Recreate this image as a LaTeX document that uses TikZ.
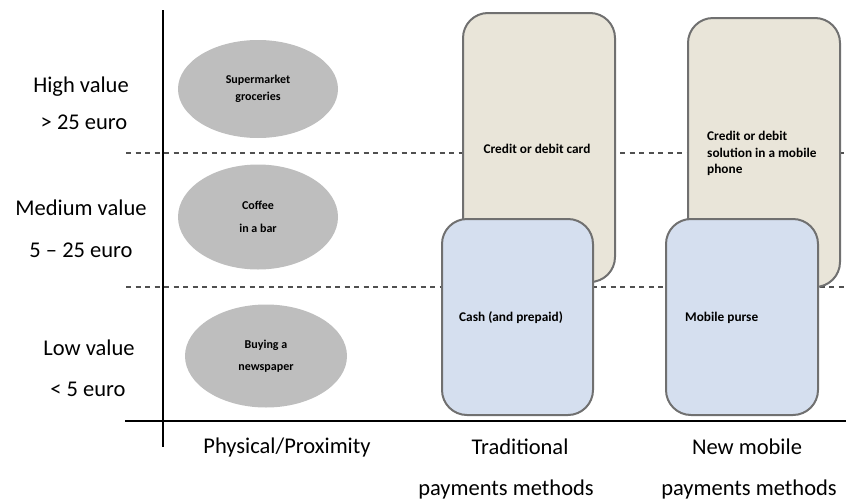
\documentclass[tikz,border=0pt]{standalone}
\usepackage{fontspec}
\setmainfont{Carlito}
\usetikzlibrary{shapes.geometric}
\definecolor{beigefill}{RGB}{233,229,217}
\definecolor{bluefill}{RGB}{213,223,239}
\definecolor{boxborder}{RGB}{112,112,112}
\definecolor{ellfill}{RGB}{190,190,190}
\definecolor{dashcol}{RGB}{80,80,80}
\begin{document}
\begin{tikzpicture}[x=1pt,y=-1pt,
  axisline/.style={line width=2.6pt,black},
  dashline/.style={line width=1.1pt,dashcol,dash pattern=on 5pt off 4.5pt},
  beigebox/.style={draw=boxborder,line width=2pt,fill=beigefill,rounded corners=25pt,inner sep=0pt},
  bluebox/.style={draw=boxborder,line width=2pt,fill=bluefill,rounded corners=25pt,inner sep=0pt},
  ell/.style={ellipse,fill=ellfill,inner sep=0pt,align=center,font=\fontsize{12}{17}\selectfont\bfseries},
  boxtext/.style={inner sep=0pt,align=left,font=\fontsize{13.3}{16.7}\selectfont\bfseries},
  biglabel/.style={inner sep=0pt,align=center,font=\fontsize{22.5}{27}\selectfont}]
\useasboundingbox (0,0) rectangle (846,501);
% dashed separators
\coordinate (d1a) at (126,153); \coordinate (d1b) at (846,153);
\coordinate (d2a) at (126,287); \coordinate (d2b) at (846,287);
\draw[dashline] (d1a) -- (d1b);
\draw[dashline] (d2a) -- (d2b);
% axes
\coordinate (vtop) at (163,10); \coordinate (vbot) at (163,447);
\coordinate (hl) at (125,421); \coordinate (hr) at (846,421);
\draw[axisline] (vtop) -- (vbot);
\draw[axisline] (hl) -- (hr);
% ellipses
\node[ell,minimum width=160pt,minimum height=98pt] (super) at (258,89) {Supermarket\\groceries};
\node[ell,minimum width=160pt,minimum height=105pt] (coffee) at (258,217) {Coffee\\[6pt]in a bar};
\node[ell,minimum width=162pt,minimum height=103pt] (news) at (266,356) {Buying a\\[5pt]newspaper};
% boxes
\node[beigebox,minimum width=152pt,minimum height=269pt] (card) at (539,147.5) {};
\node[beigebox,minimum width=152pt,minimum height=269pt] (mobcard) at (764,152.5) {};
\node[bluebox,minimum width=151pt,minimum height=196pt] (cash) at (517.5,317) {};
\node[bluebox,minimum width=152pt,minimum height=196pt] (purse) at (742,317) {};
% box texts
\node[boxtext] (cardtxt) at (537,149) {Credit or debit card};
\node[boxtext,anchor=west] (mobtxt) at (707,153.5) {Credit or debit\\solution in a mobile\\phone};
\node[boxtext,anchor=west] (cashtxt) at (459,318) {Cash (and prepaid)};
\node[boxtext,anchor=west] (pursetxt) at (685,318) {Mobile purse};
% left labels
\node[biglabel] (high) at (81,87) {High value};
\node[biglabel] (high2) at (84,122) {> 25 euro};
\node[biglabel] (med) at (81,208) {Medium value};
\node[biglabel] (med2) at (81,250) {5 – 25 euro};
\node[biglabel] (low) at (89,348) {Low value};
\node[biglabel] (low2) at (88,389) {< 5 euro};
% bottom labels
\node[biglabel] (phys) at (287,447) {Physical/Proximity};
\node[biglabel] (trad) at (520,447) {Traditional};
\node[biglabel] (trad2) at (506,489) {payments methods};
\node[biglabel] (newm) at (747,447) {New mobile};
\node[biglabel] (newm2) at (749,489) {payments methods};
\end{tikzpicture}
\end{document}
